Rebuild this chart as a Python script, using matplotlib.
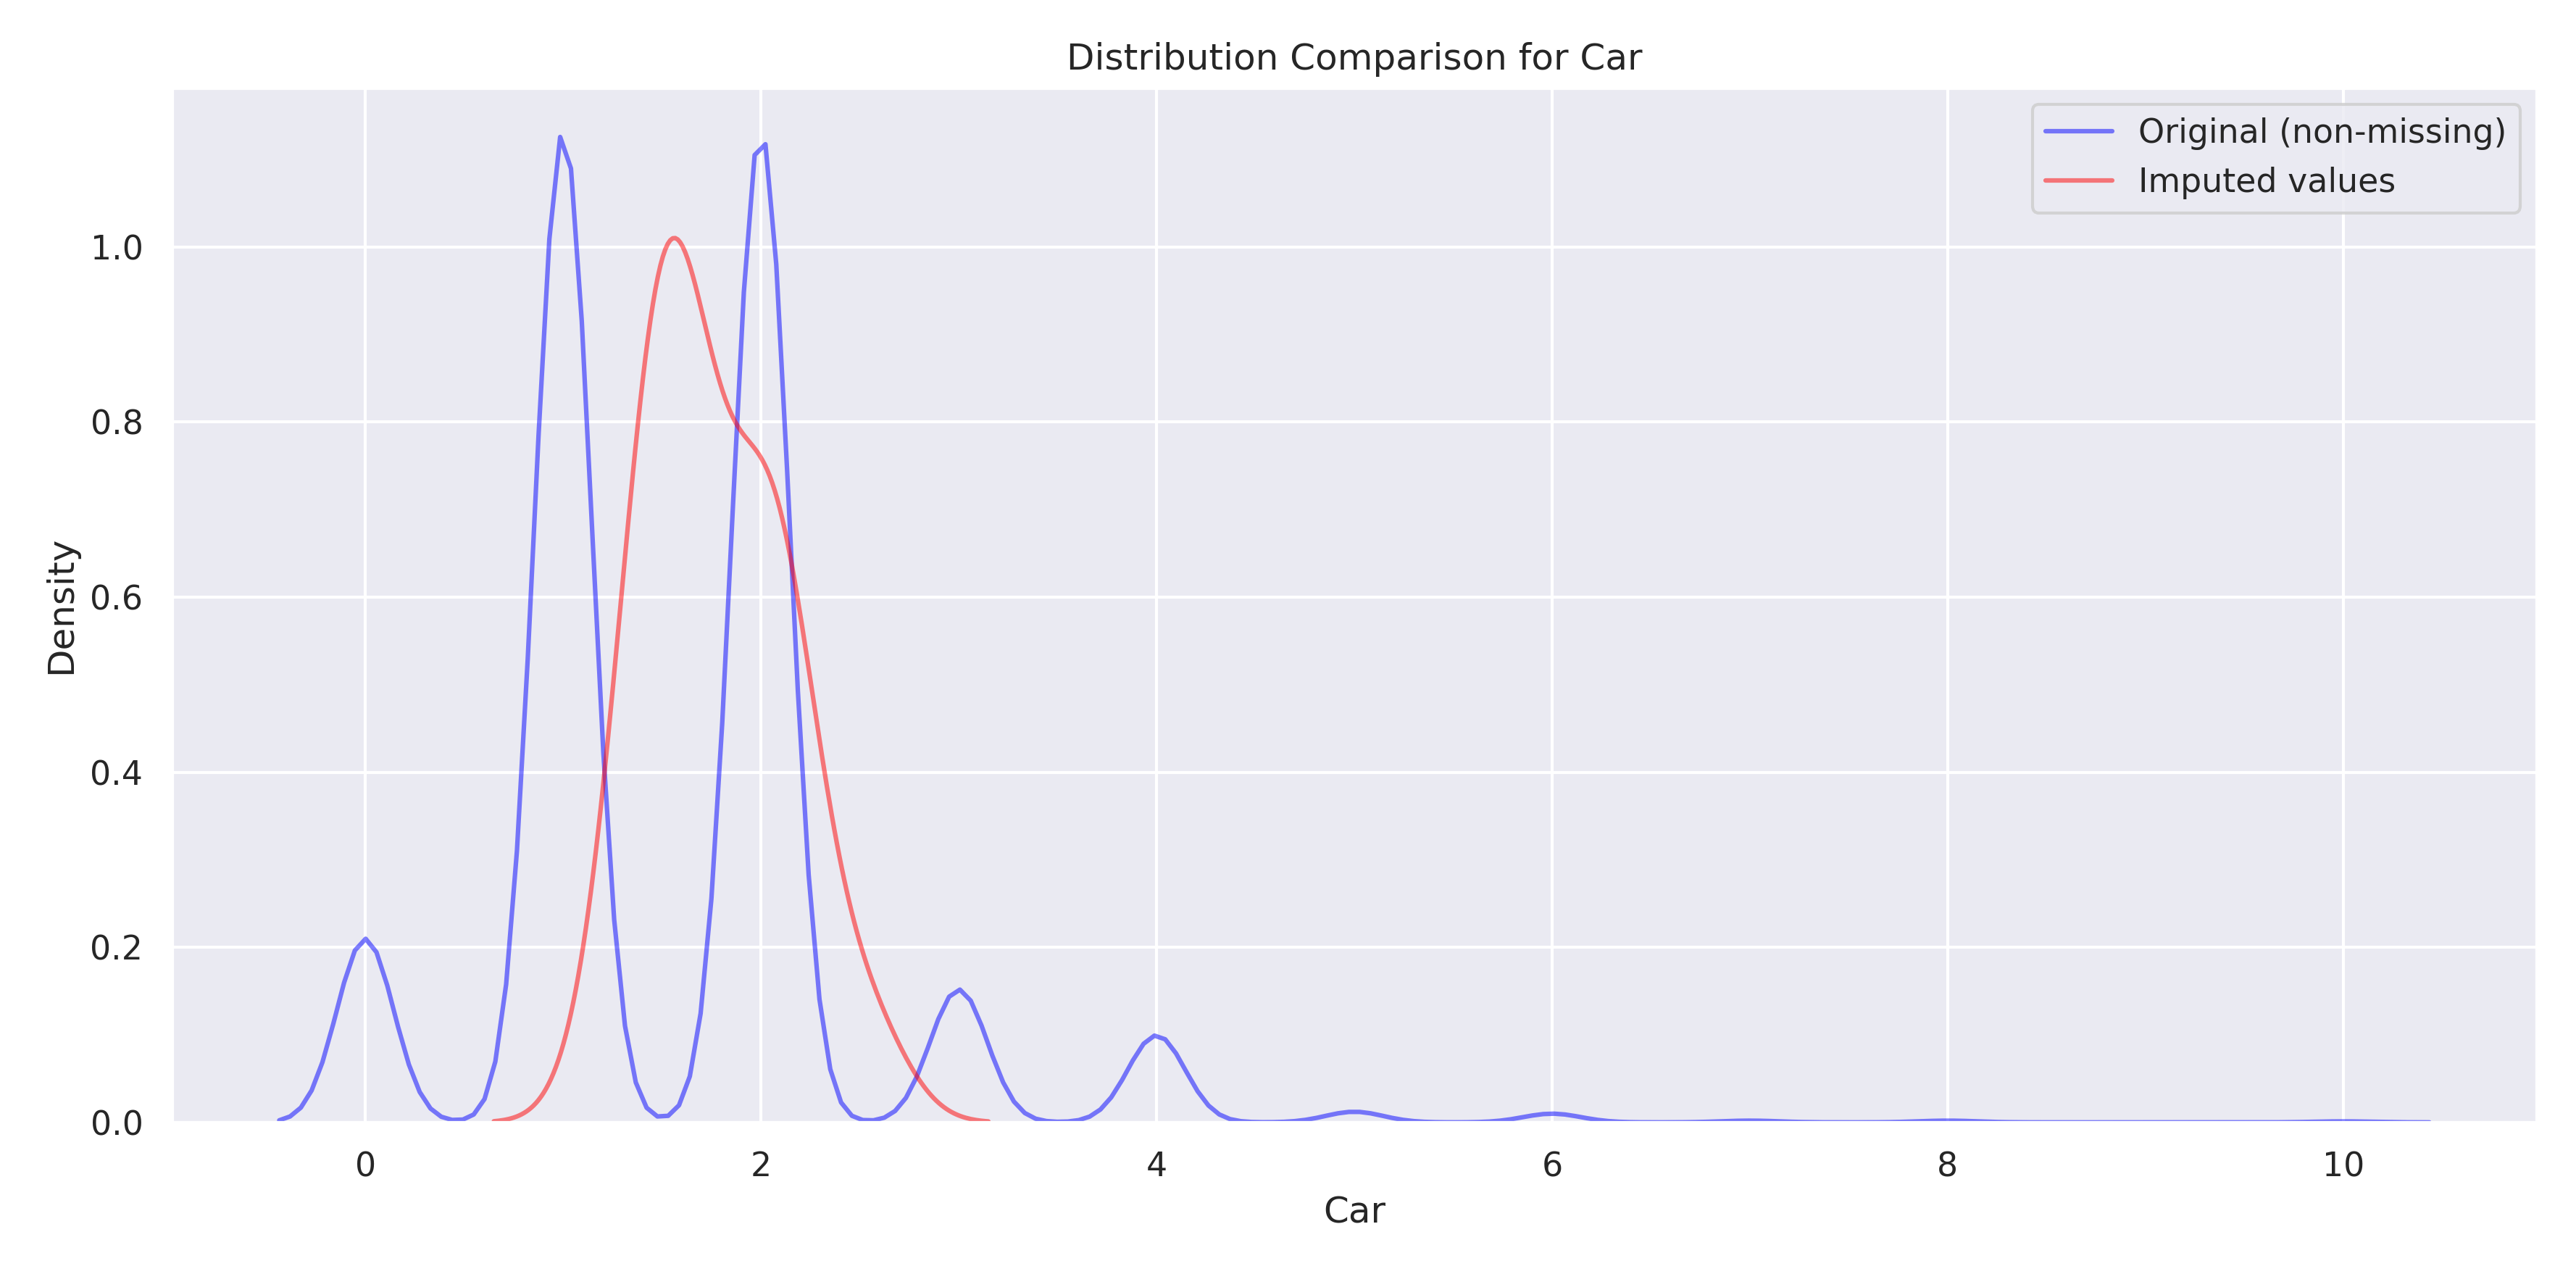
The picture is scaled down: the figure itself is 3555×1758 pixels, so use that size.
import numpy as np
import matplotlib.pyplot as plt
import seaborn as sns

# original non-missing Car values and their share (read from peak heights)
orig_values = [0, 1, 2, 3, 4, 5, 6, 7, 8, 10]
orig_weights = [0.076, 0.41, 0.41, 0.055, 0.036, 0.0044, 0.0036, 0.0007, 0.0007, 0.0004]
orig_bw = 0.145

# imputed values (estimated) and weights
imp_values = [1.25, 1.45, 1.6, 1.8, 2.05, 2.25, 2.55]
imp_weights = [0.05, 0.25, 0.22, 0.12, 0.25, 0.08, 0.05]
imp_bw = 0.2


def kde(values, weights, h, cut=3, n=200):
    v = np.asarray(values, float)
    w = np.asarray(weights, float)
    w = w / w.sum()
    x = np.linspace(v.min() - cut * h, v.max() + cut * h, n)
    d = (x[:, None] - v[None, :]) / h
    y = (w * np.exp(-0.5 * d ** 2)).sum(axis=1) / (h * np.sqrt(2 * np.pi))
    return x, y


sns.set_theme(style="darkgrid")
fig, ax = plt.subplots(figsize=(11.85, 5.86))
x, y = kde(orig_values, orig_weights, orig_bw)
ax.plot(x, y, color="blue", alpha=0.5, label="Original (non-missing)")
x, y = kde(imp_values, imp_weights, imp_bw)
ax.plot(x, y, color="red", alpha=0.5, label="Imputed values")
ax.set_ylim(bottom=0)
ax.set_title("Distribution Comparison for Car")
ax.set_xlabel("Car")
ax.set_ylabel("Density")
ax.legend()
fig.tight_layout()
fig.savefig("out.png", dpi=300)
